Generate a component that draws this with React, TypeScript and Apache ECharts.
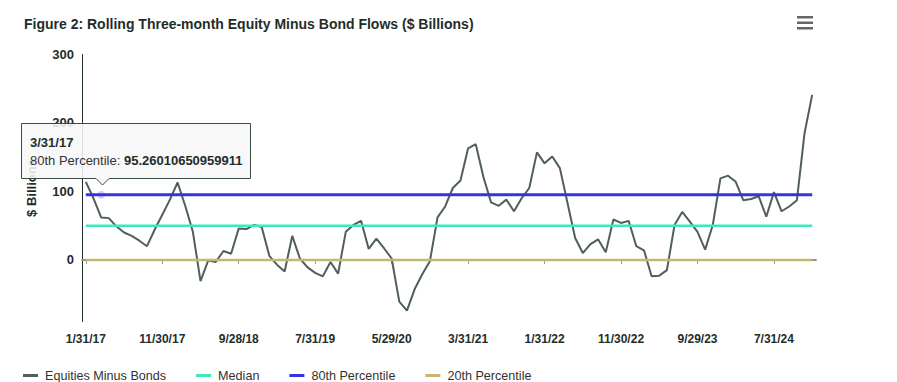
import React, { useEffect, useRef } from "react";
import * as echarts from "echarts";

const categories: string[] = [
  "1/31/17", "2/28/17", "3/31/17", "4/28/17", "5/31/17", "6/30/17", "7/31/17", "8/31/17", "9/29/17", "10/31/17", "11/30/17", "12/29/17",
  "1/31/18", "2/28/18", "3/29/18", "4/30/18", "5/31/18", "6/29/18", "7/31/18", "8/31/18", "9/28/18", "10/31/18", "11/30/18", "12/31/18",
  "1/31/19", "2/28/19", "3/29/19", "4/30/19", "5/31/19", "6/28/19", "7/31/19", "8/30/19", "9/30/19", "10/31/19", "11/29/19", "12/31/19",
  "1/31/20", "2/28/20", "3/31/20", "4/30/20", "5/29/20", "6/30/20", "7/31/20", "8/31/20", "9/30/20", "10/30/20", "11/30/20", "12/31/20",
  "1/29/21", "2/26/21", "3/31/21", "4/30/21", "5/28/21", "6/30/21", "7/30/21", "8/31/21", "9/30/21", "10/29/21", "11/30/21", "12/31/21",
  "1/31/22", "2/28/22", "3/31/22", "4/29/22", "5/31/22", "6/30/22", "7/29/22", "8/31/22", "9/30/22", "10/31/22", "11/30/22", "12/30/22",
  "1/31/23", "2/28/23", "3/31/23", "4/28/23", "5/31/23", "6/30/23", "7/31/23", "8/31/23", "9/29/23", "10/31/23", "11/30/23", "12/29/23",
  "1/31/24", "2/29/24", "3/28/24", "4/30/24", "5/31/24", "6/28/24", "7/31/24", "8/30/24", "9/30/24", "10/31/24", "11/29/24", "12/31/24",
];

const equitiesMinusBonds: number[] = [
  114, 90, 62, 61, 49, 40, 35, 28, 20, 44, 66, 88,
  113, 79, 41, -31, -1, -3, 13, 9, 46, 45, 51, 48,
  6, -7, -17, 35, 2, -11, -19, -24, -3, -20, 41, 51,
  57, 16, 31, 17, 2, -61, -74, -43, -21, -2, 62, 78,
  105, 116, 163, 169, 121, 84, 79, 88, 71, 90, 105, 157,
  141, 151, 134, 83, 32, 10, 23, 30, 11, 59, 54, 57,
  20, 14, -24, -23, -15, 51, 70, 56, 41, 15, 51, 119,
  123, 114, 87, 89, 93, 63, 99, 71, 78, 87, 185, 241,
];

const medianValue: number[] = [50];
const p80Value: number[] = [95.26010650959911];
const p20Value: number[] = [0];

const yTickLabels: number[] = [0, 100, 200, 300];

const seriesNames: string[] = ["Equities Minus Bonds", "Median", "80th Percentile", "20th Percentile"];
const hoverIndex: number[] = [2];

const FONT = "'Liberation Sans', Arial, sans-serif";
const DARK = "#1f2d2a";

export default function App() {
  const ref = useRef<HTMLDivElement>(null);

  useEffect(() => {
    if (!ref.current) return;
    const chart = echarts.init(ref.current, undefined, { renderer: "svg" });
    const constLine = (v: number) => categories.map(() => v);
    const hi = hoverIndex[0];
    const TZ = 500;

    chart.setOption({
      animation: false,
      backgroundColor: "#ffffff",
      textStyle: { fontFamily: FONT },
      title: {
        text: "Figure 2: Rolling Three-month Equity Minus Bond Flows ($ Billions)",
        left: 19,
        top: 12,
        textStyle: { fontFamily: FONT, fontWeight: "bold", fontSize: 14, color: DARK },
      },
      grid: { left: 82, right: 81, top: 54.5, bottom: 60.5, containLabel: false },
      legend: {
        left: 18,
        top: 364,
        itemWidth: 15,
        itemHeight: 3,
        itemGap: 30,
        icon: "rect",
        textStyle: { fontFamily: FONT, fontSize: 12.6, color: "#333333", padding: [0, 0, 0, 2] },
        data: seriesNames,
      },
      xAxis: {
        type: "category",
        data: categories,
        boundaryGap: true,
        axisLine: { show: true, lineStyle: { color: "#8f9592", width: 2 } },
        axisTick: { show: true, interval: 9, alignWithLabel: true, length: 4, lineStyle: { color: "#8f9592" } },
        axisLabel: {
          interval: 9,
          margin: 11,
          fontFamily: FONT,
          fontWeight: "bold",
          fontSize: 12,
          color: DARK,
        },
        splitLine: { show: false },
      },
      yAxis: {
        type: "value",
        min: -90,
        max: 300,
        interval: 10,
        name: "$ Billions",
        nameLocation: "middle",
        nameGap: 44,
        nameRotate: 90,
        nameTextStyle: { fontFamily: FONT, fontWeight: "bold", fontSize: 13, color: DARK },
        axisLine: { show: true, lineStyle: { color: DARK, width: 1 } },
        axisTick: { show: false },
        splitLine: { show: false },
        axisLabel: {
          margin: 8,
          fontFamily: FONT,
          fontWeight: "bold",
          fontSize: 13,
          color: DARK,
          formatter: (v: number) => (yTickLabels.indexOf(v) >= 0 ? String(v) : ""),
        },
      },
      series: [
        {
          name: seriesNames[0],
          type: "line",
          data: equitiesMinusBonds,
          showSymbol: false,
          symbol: "none",
          color: "#505f5a",
          lineStyle: { color: "#505f5a", width: 2 },
          z: 2,
        },
        {
          name: seriesNames[1],
          type: "line",
          data: constLine(medianValue[0]),
          showSymbol: false,
          symbol: "none",
          color: "#3ee8bd",
          lineStyle: { color: "#3ee8bd", width: 2.5 },
          z: 3,
        },
        {
          name: seriesNames[2],
          type: "line",
          data: constLine(p80Value[0]),
          showSymbol: false,
          symbol: "none",
          color: "#3434e0",
          lineStyle: { color: "#3434e0", width: 3 },
          markPoint: {
            symbol: "circle",
            symbolSize: 8,
            silent: true,
            label: { show: false },
            itemStyle: { color: "rgba(52,52,224,0.22)" },
            data: [{ coord: [hi, p80Value[0]] }],
          },
          z: 4,
        },
        {
          name: seriesNames[3],
          type: "line",
          data: constLine(p20Value[0]),
          showSymbol: false,
          symbol: "none",
          color: "#c2b96e",
          lineStyle: { color: "#c2b96e", width: 2.5 },
          z: 3,
        },
      ],
      graphic: [
        {
          type: "rect",
          z: TZ,
          shape: { x: 797, y: 16, width: 16, height: 2.5 },
          style: { fill: "#666666" },
        },
        {
          type: "rect",
          z: TZ,
          shape: { x: 797, y: 21.5, width: 16, height: 2.5 },
          style: { fill: "#666666" },
        },
        {
          type: "rect",
          z: TZ,
          shape: { x: 797, y: 27, width: 16, height: 2.5 },
          style: { fill: "#666666" },
        },
        {
          type: "polygon",
          z: TZ,
          shape: {
            points: [
              [21.5, 123.5], [250.5, 123.5], [250.5, 178.5], [109, 178.5],
              [102.5, 185], [96, 178.5], [21.5, 178.5],
            ],
          },
          style: {
            fill: "rgba(247,247,247,0.88)",
            stroke: "#3a4a45",
            lineWidth: 1,
          },
        },
        {
          type: "text",
          z: TZ + 1,
          x: 30,
          y: 142,
          style: {
            text: categories[hi],
            fontFamily: FONT,
            fontWeight: "bold",
            fontSize: 13,
            fill: DARK,
            verticalAlign: "middle",
          },
        },
        {
          type: "text",
          z: TZ + 1,
          x: 30,
          y: 160,
          style: {
            text: "{a|" + seriesNames[2] + ": }{b|" + String(p80Value[0]) + "}",
            verticalAlign: "middle",
            rich: {
              a: { fontFamily: FONT, fontSize: 13, fill: "#333333", color: "#333333" },
              b: { fontFamily: FONT, fontSize: 13, fontWeight: "bold", fill: DARK, color: DARK },
            },
          },
        },
      ],
    });

    return () => {
      chart.dispose();
    };
  }, []);

  return (
    <div
      ref={ref}
      style={{ position: "fixed", left: 0, top: 0, width: 897, height: 382 }}
    />
  );
}
